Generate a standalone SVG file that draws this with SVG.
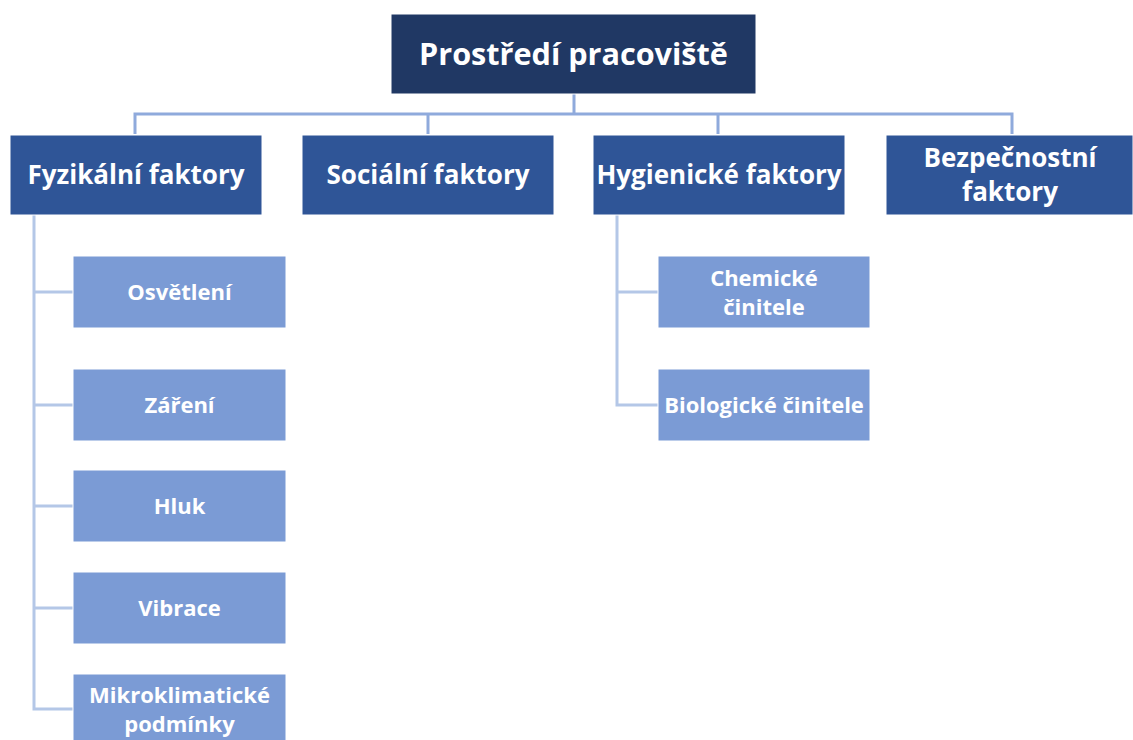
<svg xmlns="http://www.w3.org/2000/svg" width="1133" height="740" viewBox="0 0 1133 740">
  <style>
    .root { fill: #203864; stroke: #ffffff; stroke-width: 1; }
    .lvl1 { fill: #2F5597; stroke: #ffffff; stroke-width: 1; }
    .lvl2 { fill: #7B9BD5; stroke: #ffffff; stroke-width: 1; }
    text { font-family: "Open Sans", Lato, "Liberation Sans", sans-serif; font-weight: bold; fill: #ffffff; text-anchor: middle; dominant-baseline: central; }
    .t0 { font-size: 30.6px; }
    .t1 { font-size: 26px; }
    .t2 { font-size: 22px; }
    .top { fill: none; stroke: #8FAADC; stroke-width: 3; }
    .sub { fill: none; stroke: #B4C7E7; stroke-width: 3; }
  </style>
  <rect width="1133" height="740" fill="#ffffff"/>

  <g id="connectors">
    <path class="top" d="M574 94 V114 M135 134 V114 H1012 V134 M428 114 V134 M718 114 V134"/>
    <path class="sub" d="M34 215 V709 H73 M34 292 H73 M34 405 H73 M34 506 H73 M34 608 H73"/>
    <path class="sub" d="M617 215 V405 H658 M617 292 H658"/>
  </g>

  <g id="node-root">
    <rect class="root" x="391" y="14" width="365" height="80"/>
    <text class="t0" x="573.5" y="53">Prostředí pracoviště</text>
  </g>

  <g id="node-fyzikalni">
    <rect class="lvl1" x="10" y="135" width="252" height="80"/>
    <text class="t1" x="136" y="174">Fyzikální faktory</text>
  </g>
  <g id="node-socialni">
    <rect class="lvl1" x="302" y="135" width="252" height="80"/>
    <text class="t1" x="428" y="174">Sociální faktory</text>
  </g>
  <g id="node-hygienicke">
    <rect class="lvl1" x="593" y="135" width="252" height="80"/>
    <text class="t1" x="719" y="174">Hygienické faktory</text>
  </g>
  <g id="node-bezpecnostni">
    <rect class="lvl1" x="886" y="135" width="247" height="80"/>
    <text class="t1" x="1010" y="157">Bezpečnostní</text>
    <text class="t1" x="1010" y="191">faktory</text>
  </g>

  <g id="node-osvetleni">
    <rect class="lvl2" x="73" y="256" width="213" height="72"/>
    <text class="t2" x="179.5" y="291">Osvětlení</text>
  </g>
  <g id="node-zareni">
    <rect class="lvl2" x="73" y="369" width="213" height="72"/>
    <text class="t2" x="179.5" y="404">Záření</text>
  </g>
  <g id="node-hluk">
    <rect class="lvl2" x="73" y="470" width="213" height="72"/>
    <text class="t2" x="179.5" y="505">Hluk</text>
  </g>
  <g id="node-vibrace">
    <rect class="lvl2" x="73" y="572" width="213" height="72"/>
    <text class="t2" x="179.5" y="607">Vibrace</text>
  </g>
  <g id="node-mikroklima">
    <rect class="lvl2" x="73" y="674" width="213" height="72"/>
    <text class="t2" x="179.5" y="694">Mikroklimatické</text>
    <text class="t2" x="179.5" y="723">podmínky</text>
  </g>

  <g id="node-chemicke">
    <rect class="lvl2" x="658" y="256" width="212" height="72"/>
    <text class="t2" x="764" y="277">Chemické</text>
    <text class="t2" x="764" y="306">činitele</text>
  </g>
  <g id="node-biologicke">
    <rect class="lvl2" x="658" y="369" width="212" height="72"/>
    <text class="t2" x="764" y="404">Biologické činitele</text>
  </g>
</svg>
